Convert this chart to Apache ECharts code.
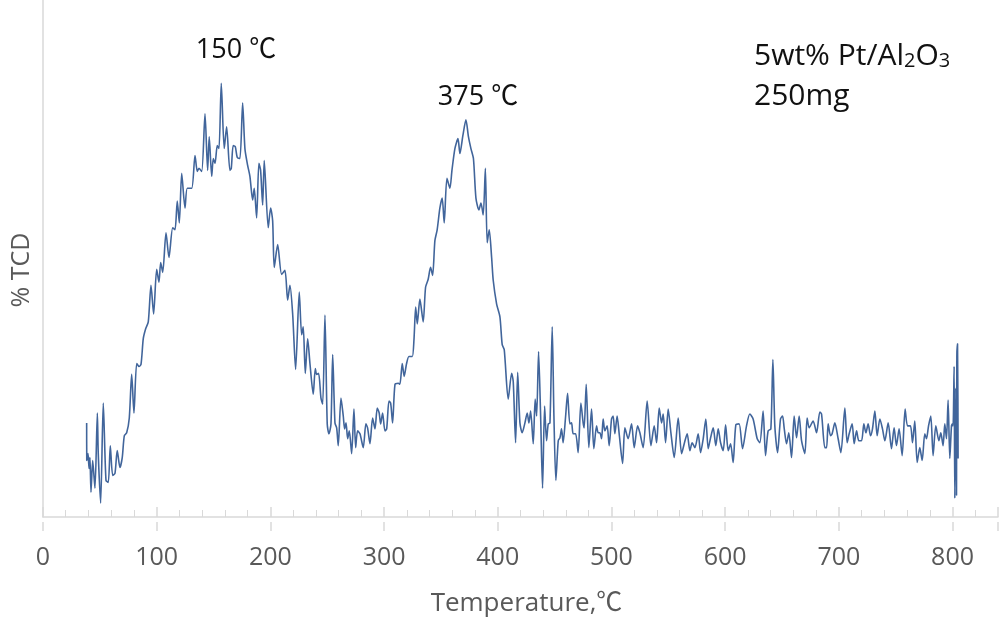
<!DOCTYPE html>
<html>
<head>
<meta charset="utf-8">
<script src="https://cdn.jsdelivr.net/npm/echarts@6/dist/echarts.min.js"></script>
<style>
html,body{margin:0;padding:0;background:#fff;}
#chart{width:1003px;height:622px;}
</style>
</head>
<body>
<div id="chart"></div>
<script>
// Temperature (°C)
var temperature = [
38.4,38.5,39.6,40.5,41.3,42.2,43.7,45.7,47.8,48.6,50.7,53.0,55.4,57.4,59.2,61.3,63.3,65.3,67.7,69.7,
71.5,73.6,75.9,78.0,80.0,82.4,84.4,86.2,88.2,90.3,92.6,95.0,97.3,100.0,102.0,103.5,105.3,108.2,110.8,114.1,
116.1,118.1,119.9,122.0,124.9,126.9,130.8,133.7,135.7,137.2,139.6,142.5,144.8,146.2,148.4,149.8,151.3,153.3,154.8,156.8,
159.4,161.5,164.4,165.6,167.3,169.1,170.9,173.2,175.6,177.6,180.0,182.0,184.4,185.8,187.9,189.9,191.4,193.2,194.6,198.1,
200.2,202.0,203.4,206.4,209.9,212.8,215.2,217.2,219.6,222.2,225.4,227.5,228.9,230.7,232.8,234.8,237.7,239.5,240.7,242.4,
244.5,246.0,248.0,250.0,251.5,253.3,254.8,256.8,258.3,259.7,262.1,264.1,265.3,266.5,268.0,269.4,271.5,273.5,275.0,276.7,
278.8,281.7,284.0,285.5,287.6,289.9,292.0,294.0,295.7,297.0,298.7,300.8,302.3,304.3,305.8,307.5,309.6,312.5,313.9,316.0,
317.7,319.8,321.9,324.8,326.3,327.8,329.2,331.5,334.4,336.5,338.8,340.9,342.7,344.7,346.7,349.1,351.1,352.9,355.3,357.9,
359.7,362.3,365.0,366.7,369.3,372.0,374.2,376.4,378.6,380.8,383.4,385.2,387.2,389.1,390.7,392.5,394.6,396.0,399.0,401.9,
403.9,405.7,409.2,412.2,413.6,415.7,417.5,419.5,421.5,423.9,425.9,427.4,428.9,431.2,432.9,434.2,435.9,437.7,439.4,441.2,
442.9,444.4,445.9,447.9,449.4,451.1,453.2,454.7,456.1,457.5,459.7,461.4,463.4,464.9,466.3,468.5,470.7,473.1,475.1,476.0,
477.8,480.1,482.5,484.5,486.9,488.3,489.8,491.3,492.7,494.2,496.2,498.0,500.1,501.5,503.0,505.0,506.8,509.8,511.8,514.7,
517.7,520.0,523.0,525.0,527.9,531.4,534.7,537.6,539.7,542.0,544.1,545.5,547.6,549.9,552.3,555.2,558.7,561.7,564.0,566.6,
569.0,571.0,573.4,576.3,578.4,580.7,583.0,585.1,587.2,589.5,591.8,593.9,596.0,598.3,600.4,602.7,604.8,607.0,609.4,612.3,
615.3,618.8,621.7,624.6,628.2,630.5,633.4,635.5,637.8,640.2,642.0,643.7,646.1,648.7,650.5,651.9,654.0,656.0,658.4,660.7,
662.8,665.1,667.2,670.1,672.1,673.9,677.4,680.4,683.3,684.8,687.7,689.2,690.6,692.7,694.1,696.5,699.4,701.8,705.3,707.3,
709.1,711.7,713.5,715.6,717.6,720.0,722.0,723.8,725.8,727.9,729.6,731.7,733.7,736.1,738.4,740.5,743.4,746.3,748.6,750.7,
753.0,755.7,758.3,760.4,763.0,764.8,766.8,768.9,771.2,773.3,775.6,777.1,778.9,780.9,782.9,785.3,788.0,789.7,791.7,793.2,
794.7,796.1,797.6,799.1,800.0,800.5,801.4,802.0,802.9,803.5,803.8,804.4,804.9
];
// TCD signal (arbitrary units)
var tcdSignal = [
95,57,64,49,60,25,57,29,105,64,14,115,37,35,72,42,44,67,50,60,
82,85,100,144,105,155,152,154,180,190,197,234,205,250,237,257,247,287,262,292,
290,319,297,347,312,332,332,365,349,352,349,407,350,384,344,362,357,375,372,438,
372,394,350,352,375,374,363,362,418,372,355,344,320,332,302,357,350,315,360,292,
312,299,252,275,245,249,219,234,205,149,227,184,192,145,180,155,124,150,144,145,
120,114,204,94,84,94,164,95,90,72,120,102,89,95,79,87,64,109,70,87,
84,70,94,90,74,100,89,110,105,94,105,87,89,117,115,95,134,135,134,155,
142,155,162,162,179,212,195,220,197,232,240,252,244,279,290,312,322,297,342,332,
350,372,382,367,385,401,384,372,362,322,310,317,305,352,277,290,262,239,215,202,
174,169,119,145,137,75,146,95,85,95,105,95,107,74,119,102,167,102,29,112,
77,94,95,192,102,37,77,80,89,75,102,125,94,95,84,84,65,115,95,90,
134,70,109,69,92,85,85,79,99,87,92,72,99,102,84,102,84,54,90,79,
94,70,92,85,70,117,72,92,75,110,95,104,75,109,85,60,100,64,74,84,
67,75,70,84,65,79,99,69,80,90,72,89,75,67,93,67,74,55,93,94,
69,92,104,99,79,75,107,62,87,89,159,92,65,99,102,90,74,85,60,102,
80,102,77,64,100,90,97,85,106,104,70,70,94,82,84,95,79,65,110,75,
84,94,74,87,77,77,94,85,94,82,89,107,82,99,89,77,95,69,90,72,
89,62,109,92,92,75,97,55,70,57,84,79,92,102,62,92,77,85,72,94,
79,118,59,92,94,92,152,19,130,22,162,175,59
];
var xTicks = ['0','100','200','300','400','500','600','700','800'];
var peakLabels = ['150 \u2103', '375 \u2103'];
var sampleLines = ['5wt% Pt/Al{s|2}O{s|3}', '250mg'];
var xTitle = 'Temperature,\u2103';
var yTitle = '% TCD';

var seriesData = temperature.map(function (t, i) { return [t, tcdSignal[i]]; });
var FONT = '"Open Sans", "Noto Sans CJK SC", sans-serif';
var axisGray = '#d9d9d9';
var textGray = '#595959';

var chart = echarts.init(document.getElementById('chart'), null, {renderer: 'canvas'});
chart.setOption({
  animation: false,
  backgroundColor: '#ffffff',
  grid: [
    {left: 43, right: 5, top: 0, bottom: 100},
    {left: 43, right: 5, top: 0, bottom: 100}
  ],
  xAxis: [
    {
      type: 'value', gridIndex: 0, min: 0, max: 840, interval: 100,
      axisLine: {show: true, lineStyle: {color: axisGray, width: 1.5}},
      axisTick: {show: true, inside: true, length: 10, lineStyle: {color: axisGray, width: 1.5}},
      minorTick: {show: true, splitNumber: 5, length: 7, lineStyle: {color: axisGray, width: 1}},
      splitLine: {show: false},
      axisLabel: {
        show: true, margin: 28, color: textGray, fontSize: 25, fontFamily: FONT,
        formatter: function (v) { var i = Math.round(v / 100); return (v % 100 === 0 && xTicks[i] !== undefined) ? xTicks[i] : ''; }
      },
      name: xTitle, nameLocation: 'middle', nameGap: 74,
      nameTextStyle: {color: textGray, fontSize: 26, fontFamily: FONT, padding: [0, 0, 0, 12]}
    },
    {
      type: 'value', gridIndex: 1, min: 0, max: 840, interval: 100,
      axisLine: {show: false},
      axisTick: {show: true, inside: false, length: 9, lineStyle: {color: axisGray, width: 1.5}},
      splitLine: {show: false},
      axisLabel: {show: false}
    }
  ],
  yAxis: [
    {
      type: 'value', gridIndex: 0, min: 0, max: 522,
      axisLine: {show: true, lineStyle: {color: axisGray, width: 1.5}},
      axisTick: {show: false}, axisLabel: {show: false}, splitLine: {show: false}
    },
    {
      type: 'value', gridIndex: 1, min: 0, max: 522, show: false
    }
  ],
  series: [{
    type: 'line', xAxisIndex: 0, yAxisIndex: 0,
    data: seriesData,
    showSymbol: false, smooth: 0.25,
    lineStyle: {color: '#41659b', width: 1.6}
  }],
  graphic: [
    {type: 'text', x: 236, y: 50, style: {text: peakLabels[0], align: 'center', verticalAlign: 'middle', fill: '#111', font: '27px ' + FONT}},
    {type: 'text', x: 478, y: 97, style: {text: peakLabels[1], align: 'center', verticalAlign: 'middle', fill: '#111', font: '27px ' + FONT}},
    {type: 'text', x: 754, y: 56, style: {
      text: sampleLines[0], align: 'left', verticalAlign: 'middle', fill: '#111', fontSize: 30, fontFamily: FONT,
      rich: {s: {fontSize: 20, fontFamily: FONT, fill: '#111', verticalAlign: 'bottom', padding: [10, 0, 0, 0]}}
    }},
    {type: 'text', x: 754, y: 96, style: {text: sampleLines[1], align: 'left', verticalAlign: 'middle', fill: '#111', fontSize: 30, fontFamily: FONT}},
    {type: 'text', x: 22, y: 270, rotation: Math.PI / 2, style: {text: yTitle, align: 'center', verticalAlign: 'middle', fill: textGray, fontSize: 25, fontFamily: FONT}}
  ]
});
</script>
</body>
</html>
